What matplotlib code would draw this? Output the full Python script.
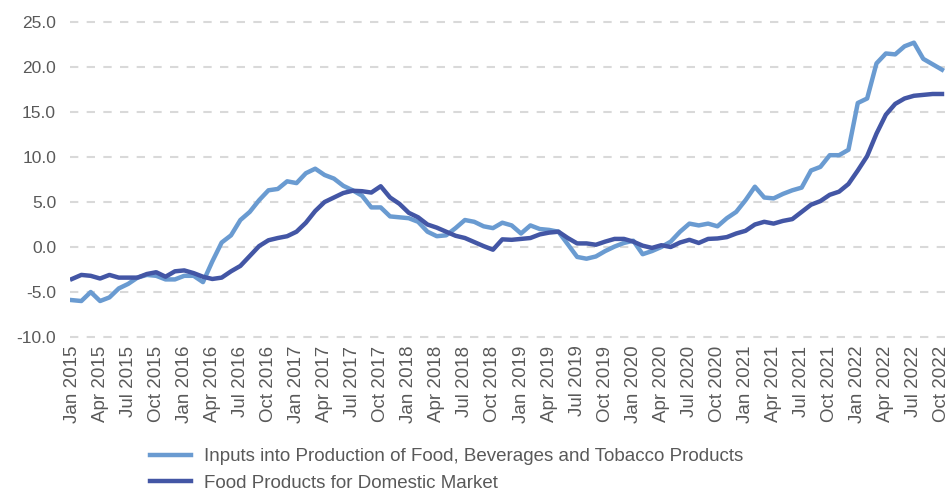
import numpy as np
import matplotlib
matplotlib.use("Agg")
import matplotlib.pyplot as plt

# monthly % change, Jan 2015 .. Oct 2022
inputs_food = [
    -5.9, -6.0, -5.0, -6.0, -5.6, -4.6, -4.1, -3.4, -3.1, -3.2, -3.6, -3.6,
    -3.2, -3.2, -3.9, -1.6, 0.5, 1.3, 3.0, 3.9, 5.2, 6.3, 6.45, 7.3,
    7.1, 8.2, 8.7, 8.0, 7.6, 6.8, 6.3, 5.7, 4.4, 4.4, 3.4, 3.3,
    3.2, 2.8, 1.7, 1.2, 1.3, 2.1, 3.0, 2.8, 2.3, 2.1, 2.7, 2.4,
    1.5, 2.4, 2.0, 1.9, 1.7, 0.3, -1.1, -1.3, -1.05, -0.45, 0.05, 0.45,
    0.7, -0.8, -0.45, 0.0, 0.6, 1.7, 2.6, 2.4, 2.6, 2.3, 3.2, 3.9,
    5.2, 6.7, 5.5, 5.4, 5.9, 6.3, 6.6, 8.5, 8.9, 10.2, 10.2, 10.8,
    16.0, 16.5, 20.4, 21.5, 21.4, 22.3, 22.7, 20.9, 20.3, 19.7,
]
food_domestic = [
    -3.55, -3.1, -3.2, -3.5, -3.1, -3.4, -3.4, -3.4, -3.0, -2.8, -3.3, -2.7,
    -2.6, -2.9, -3.3, -3.55, -3.4, -2.7, -2.1, -1.0, 0.1, 0.75, 1.0, 1.2,
    1.7, 2.7, 4.0, 5.0, 5.5, 6.0, 6.25, 6.2, 6.05, 6.75, 5.5, 4.8,
    3.8, 3.3, 2.5, 2.15, 1.7, 1.25, 1.0, 0.55, 0.1, -0.3, 0.85, 0.8,
    0.9, 1.0, 1.4, 1.6, 1.7, 1.0, 0.4, 0.4, 0.25, 0.6, 0.9, 0.9,
    0.6, 0.15, -0.1, 0.2, 0.0, 0.5, 0.8, 0.45, 0.9, 0.95, 1.1, 1.5,
    1.8, 2.5, 2.8, 2.6, 2.9, 3.1, 3.9, 4.7, 5.1, 5.8, 6.15, 7.0,
    8.5, 10.1, 12.6, 14.7, 15.9, 16.5, 16.8, 16.9, 17.0, 17.0,
]
months = ["Jan", "Apr", "Jul", "Oct"]
years = list(range(2015, 2023))
tick_labels = [f"{m} {y}" for y in years for m in months]

labels = ["Inputs into Production of Food, Beverages and Tobacco Products",
          "Food Products for Domestic Market"]
colors = ["#6a9bd1", "#4356a5"]

plt.rcParams["font.family"] = ["Liberation Sans", "DejaVu Sans"]

W, H = 949, 494
fig = plt.figure(figsize=(W / 100, H / 100), dpi=100)
ax = fig.add_axes([70 / W, 1 - 340 / H, 879 / W, 321 / H])

x = np.arange(len(inputs_food))
ax.plot(x, inputs_food, color=colors[0], lw=3.2, label=labels[0], solid_joinstyle="round")
ax.plot(x, food_domestic, color=colors[1], lw=3.2, label=labels[1], solid_joinstyle="round")

ax.set_xlim(-0.214, 93.75)
ax.set_ylim(-10.33, 25.33)
ax.set_yticks(np.arange(-10, 26, 5))
ax.set_yticklabels([f"{v:.1f}" for v in np.arange(-10, 26, 5)])
ticks = list(range(0, len(x), 3))
ax.set_xticks(ticks)
ax.set_xticklabels(tick_labels[:len(ticks)], rotation=90)

ax.grid(axis="y", color="#d9d9d9", lw=1.5, ls=(0, (4, 4)))
ax.set_axisbelow(True)
for s in ax.spines.values():
    s.set_visible(False)
ax.tick_params(axis="both", length=0, colors="#595959")
ax.tick_params(axis="y", pad=10, labelsize=12.5)
ax.tick_params(axis="x", pad=4, labelsize=13.5)

fig.legend(loc="upper left", bbox_to_anchor=(150 / W, 1 - 448 / H), frameon=False,
           fontsize=13.5, handlelength=2.2, handletextpad=0.7, labelspacing=0.52,
           borderpad=0, borderaxespad=0, labelcolor="#595959")

fig.savefig("out.png", dpi=100)
